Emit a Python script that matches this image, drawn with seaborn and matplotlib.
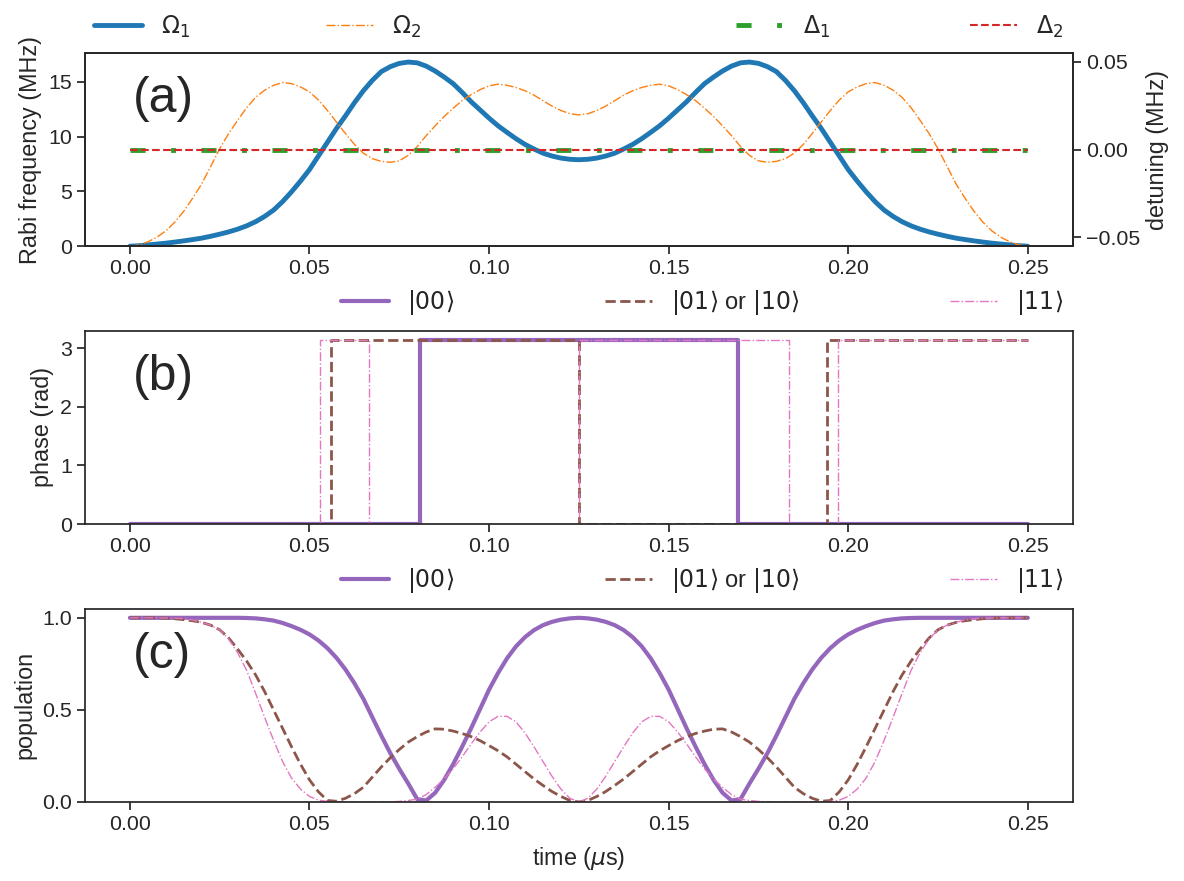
import numpy as np
import seaborn as sns
import matplotlib
matplotlib.use("Agg")
from matplotlib import pyplot as plt

# sampling times (us), every 2.5 ns from 0 to 0.25 us
t_grid = np.linspace(0, 0.25, 101)

# (a) Rabi frequencies (MHz)
omega1 = [0.0, 0.05, 0.12, 0.2, 0.28, 0.38, 0.49, 0.61, 0.74, 0.91,
          1.1, 1.31, 1.56, 1.86, 2.24, 2.72, 3.3, 4.07, 4.97, 5.95,
          7.0, 8.25, 9.5, 10.75, 11.9, 13.1, 14.2, 15.15, 15.95, 16.4,
          16.7, 16.82, 16.75, 16.45, 16.0, 15.45, 14.85, 14.05, 13.2, 12.45,
          11.7, 11.0, 10.4, 9.82, 9.3, 8.88, 8.5, 8.24, 8.05, 7.94,
          7.9,
          7.94, 8.05, 8.24, 8.5, 8.88, 9.3, 9.82, 10.4, 11.0, 11.7,
          12.45, 13.2, 14.05, 14.85, 15.45, 16.0, 16.45, 16.75, 16.82, 16.7,
          16.4, 15.95, 15.15, 14.2, 13.1, 11.9, 10.75, 9.5, 8.25, 7.0,
          5.95, 4.97, 4.07, 3.3, 2.72, 2.24, 1.86, 1.56, 1.31, 1.1,
          0.91, 0.74, 0.61, 0.49, 0.38, 0.28, 0.2, 0.12, 0.05, 0.0]
omega2 = [0.0, 0.12, 0.4, 0.82, 1.4, 2.2, 3.2, 4.4, 5.7, 7.3,
          8.9, 10.3, 11.5, 12.65, 13.6, 14.25, 14.7, 14.95, 14.85, 14.55,
          14.1, 13.35, 12.4, 11.35, 10.3, 9.3, 8.5, 8.0, 7.75, 7.67,
          7.8, 8.3, 9.1, 10.1, 11.0, 11.85, 12.6, 13.3, 13.85, 14.3,
          14.65, 14.8, 14.7, 14.5, 14.2, 13.8, 13.3, 12.8, 12.4, 12.1,
          12.0,
          12.1, 12.4, 12.8, 13.3, 13.8, 14.2, 14.5, 14.7, 14.8, 14.65,
          14.3, 13.85, 13.3, 12.6, 11.85, 11.0, 10.1, 9.1, 8.3, 7.8,
          7.67, 7.75, 8.0, 8.5, 9.3, 10.3, 11.35, 12.4, 13.35, 14.1,
          14.55, 14.85, 14.95, 14.7, 14.25, 13.6, 12.65, 11.5, 10.3, 8.9,
          7.3, 5.7, 4.4, 3.2, 2.2, 1.4, 0.82, 0.4, 0.12, 0.0]
t_det = [0.0, 0.25]
delta1 = [0.0, 0.0]
delta2 = [0.0, 0.0]

# (b) phases (rad), piecewise constant between the jump times
t_ph00 = [0.0, 0.0808, 0.1692, 0.25]
ph00 = [0.0, np.pi, 0.0, 0.0]
t_ph01 = [0.0, 0.0559, 0.125, 0.1941, 0.25]
ph01 = [0.0, np.pi, 0.0, np.pi, np.pi]
t_ph11 = [0.0, 0.0529, 0.0665, 0.125, 0.1835, 0.1971, 0.25]
ph11 = [0.0, np.pi, 0.0, np.pi, 0.0, np.pi, np.pi]

# (c) populations
pop00 = [1.0, 1.0, 1.0, 1.0, 1.0, 1.0, 1.0, 1.0, 1.0, 1.0,
         1.0, 1.0, 1.0, 0.999, 0.997, 0.992, 0.985, 0.972, 0.955, 0.935,
         0.91, 0.877, 0.835, 0.783, 0.72, 0.645, 0.56, 0.46, 0.36, 0.265,
         0.18, 0.1, 0.015, 0.008, 0.05, 0.12, 0.205, 0.30, 0.40, 0.505,
         0.61, 0.70, 0.78, 0.845, 0.895, 0.933, 0.96, 0.978, 0.99, 0.997,
         1.0,
         0.997, 0.99, 0.978, 0.96, 0.933, 0.895, 0.845, 0.78, 0.70, 0.61,
         0.505, 0.40, 0.30, 0.205, 0.12, 0.05, 0.008, 0.015, 0.1, 0.18,
         0.265, 0.36, 0.46, 0.56, 0.645, 0.72, 0.783, 0.835, 0.877, 0.91,
         0.935, 0.955, 0.972, 0.985, 0.992, 0.997, 0.999, 1.0, 1.0, 1.0,
         1.0, 1.0, 1.0, 1.0, 1.0, 1.0, 1.0, 1.0, 1.0, 1.0]
pop01 = [1.0, 1.0, 1.0, 1.0, 0.998, 0.995, 0.99, 0.984, 0.975, 0.96,
         0.935, 0.89, 0.83, 0.765, 0.69, 0.60, 0.50, 0.40, 0.30, 0.205,
         0.12, 0.055, 0.008, 0.004, 0.02, 0.045, 0.08, 0.135, 0.19, 0.24,
         0.285, 0.325, 0.355, 0.38, 0.397, 0.395, 0.385, 0.372, 0.355, 0.333,
         0.306, 0.278, 0.245, 0.205, 0.165, 0.125, 0.09, 0.057, 0.03, 0.008,
         0.0,
         0.008, 0.03, 0.057, 0.09, 0.125, 0.165, 0.205, 0.245, 0.278, 0.306,
         0.333, 0.355, 0.372, 0.385, 0.395, 0.397, 0.38, 0.355, 0.325, 0.285,
         0.24, 0.19, 0.135, 0.08, 0.045, 0.02, 0.004, 0.008, 0.055, 0.12,
         0.205, 0.30, 0.40, 0.50, 0.60, 0.69, 0.765, 0.83, 0.89, 0.935,
         0.96, 0.975, 0.984, 0.99, 0.995, 0.998, 1.0, 1.0, 1.0, 1.0]
pop11 = [1.0, 1.0, 1.0, 1.0, 0.999, 0.998, 0.995, 0.988, 0.975, 0.96,
         0.935, 0.885, 0.81, 0.715, 0.59, 0.46, 0.335, 0.22, 0.13, 0.07,
         0.03, 0.01, 0.003, 0.001, 0.0, 0.0, 0.0, 0.0, 0.0, 0.001,
         0.003, 0.008, 0.015, 0.04, 0.08, 0.125, 0.18, 0.245, 0.315, 0.38,
         0.435, 0.465, 0.465, 0.435, 0.375, 0.30, 0.22, 0.14, 0.07, 0.02,
         0.0,
         0.02, 0.07, 0.14, 0.22, 0.30, 0.375, 0.435, 0.465, 0.465, 0.435,
         0.38, 0.315, 0.245, 0.18, 0.125, 0.08, 0.04, 0.015, 0.008, 0.003,
         0.001, 0.0, 0.0, 0.0, 0.0, 0.0, 0.001, 0.003, 0.01, 0.03,
         0.07, 0.13, 0.22, 0.335, 0.46, 0.59, 0.715, 0.81, 0.885, 0.935,
         0.96, 0.975, 0.988, 0.995, 0.998, 0.999, 1.0, 1.0, 1.0, 1.0]

sns.set_theme(style="ticks", font_scale=1.4)
plt.rcParams['font.family'] = ['Liberation Sans', 'DejaVu Sans']
leg_size = 17

fig, axes = plt.subplots(3, 1, figsize=(11.84, 8.81), dpi=100)
fig.subplots_adjust(left=0.0718, right=0.906, top=0.94, bottom=0.0897, hspace=0.437)
ax1, axb, axc = axes

# (a) pulses
sns.lineplot(x=t_grid, y=omega1, ax=ax1, color='tab:blue', lw=3.5, label=r'$\Omega_1$')
sns.lineplot(x=t_grid, y=omega2, ax=ax1, color='tab:orange', lw=1, linestyle='-.',
             label=r'$\Omega_2$')
ax1.set_ylim(bottom=0)
ax1.set_ylabel('Rabi frequency (MHz)')
ax1.set_yticks([0, 5, 10, 15])
ax2 = ax1.twinx()
sns.lineplot(x=t_det, y=delta1, ax=ax2, color='tab:green', lw=3.5,
             linestyle=(0, (3.1, 5.25, 1.0, 5.25)), label=r'$\Delta_1$')
sns.lineplot(x=t_det, y=delta2, ax=ax2, color='tab:red', lw=1.5, linestyle='--',
             label=r'$\Delta_2$')
ax2.set_ylabel('detuning (MHz)')
ax1.legend(loc='lower left', bbox_to_anchor=(0, 1.02, 0.35, 0.2), ncol=2,
           mode='expand', frameon=False, borderaxespad=0, fontsize=leg_size)
ax2.legend(loc='lower left', bbox_to_anchor=(0.65, 1.02, 0.35, 0.2), ncol=2,
           mode='expand', frameon=False, borderaxespad=0, fontsize=leg_size)

# (b) phases
sns.lineplot(x=t_ph00, y=ph00, ax=axb, color='tab:purple', lw=3, drawstyle='steps-post',
             label=r'$|00\rangle$')
sns.lineplot(x=t_ph01, y=ph01, ax=axb, color='tab:brown', lw=2, linestyle='--',
             drawstyle='steps-post', label=r'$|01\rangle$ or $|10\rangle$')
sns.lineplot(x=t_ph11, y=ph11, ax=axb, color='tab:pink', lw=1, linestyle='-.',
             drawstyle='steps-post', label=r'$|11\rangle$')
axb.set_ylim(bottom=0)
axb.set_ylabel('phase (rad)')

# (c) populations
sns.lineplot(x=t_grid, y=pop00, ax=axc, color='tab:purple', lw=3, label=r'$|00\rangle$')
sns.lineplot(x=t_grid, y=pop01, ax=axc, color='tab:brown', lw=2, linestyle='--',
             label=r'$|01\rangle$ or $|10\rangle$')
sns.lineplot(x=t_grid, y=pop11, ax=axc, color='tab:pink', lw=1, linestyle='-.',
             label=r'$|11\rangle$')
axc.set_ylim(bottom=0)
axc.set_ylabel('population')
axc.set_xlabel(r'time ($\mu$s)', labelpad=8)

for ax in (axb, axc):
    ax.legend(loc='lower left', bbox_to_anchor=(0.25, 1.02, 0.75, 0.2), ncol=3,
              mode='expand', frameon=False, borderaxespad=0, fontsize=leg_size)

for ax, lab in zip(axes, ['(a)', '(b)', '(c)']):
    ax.set_xticks([0.0, 0.05, 0.10, 0.15, 0.20, 0.25])
    ax.text(0.048, 0.694, lab, transform=ax.transAxes, fontsize=36, va='baseline')

fig.savefig('out.png', dpi=100)
